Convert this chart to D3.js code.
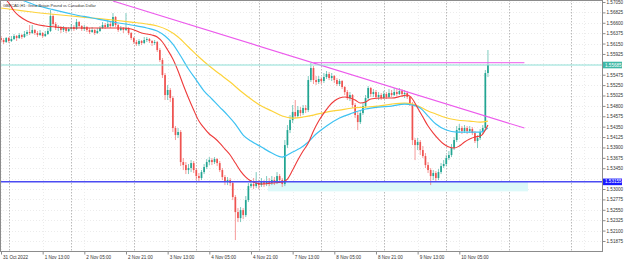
<!DOCTYPE html>
<html><head><meta charset="utf-8">
<script src="https://cdn.jsdelivr.net/npm/d3@7"></script>
<style>html,body{margin:0;padding:0;background:#fff;}svg{display:block;font-family:"Liberation Sans",Arial,sans-serif;}</style>
</head><body><svg id="c" width="625" height="260"></svg>
<script>
const title = "GBPCAD,H1:  Great Britain Pound vs Canadian Dollar";
const firstOpen = 1.56270;
const closes = [
1.56227,1.56183,1.56270,1.56205,1.56248,1.56313,1.56270,1.56335,1.56292,1.56357,
1.56400,1.56378,1.56443,1.56378,1.56335,1.56378,1.56313,1.56357,1.56422,1.56746,
1.56573,1.56487,1.56508,1.56443,1.56487,1.56422,1.56465,1.56508,1.56465,1.56616,
1.56530,1.56465,1.56508,1.56443,1.56400,1.56443,1.56378,1.56422,1.56487,1.56551,
1.56508,1.56573,1.56530,1.56725,1.56551,1.56443,1.56487,1.56443,1.56487,1.56378,
1.56270,1.56183,1.56140,1.56205,1.56162,1.56227,1.56248,1.56205,1.56162,1.56183,
1.56010,1.55793,1.55468,1.55035,1.55144,1.54970,1.54321,1.54169,1.54234,1.53584,
1.53519,1.53411,1.53454,1.53562,1.53411,1.53281,1.53238,1.53367,1.53476,1.53584,
1.53627,1.53584,1.53649,1.53562,1.53411,1.53259,1.53151,1.53194,1.53129,1.52826,
1.52501,1.52371,1.52544,1.52436,1.52761,1.53064,1.53108,1.53064,1.53129,1.53086,
1.53151,1.53108,1.53173,1.53129,1.53194,1.53151,1.53281,1.53194,1.53108,1.53952,
1.54277,1.54494,1.54667,1.54580,1.54710,1.54645,1.54754,1.54710,1.55360,1.55620,
1.55360,1.55317,1.55382,1.55339,1.55425,1.55490,1.55404,1.55447,1.55360,1.55274,
1.55339,1.55209,1.55100,1.54970,1.55035,1.54819,1.54602,1.54450,1.54645,1.54797,
1.54970,1.55187,1.55057,1.55100,1.54992,1.55035,1.54970,1.55057,1.54992,1.55079,
1.55035,1.55100,1.55057,1.55122,1.55057,1.55079,1.54992,1.54840,1.54061,1.53952,
1.54017,1.53844,1.53714,1.53519,1.53411,1.53281,1.53346,1.53238,1.53367,1.53497,
1.53541,1.53671,1.53736,1.53887,1.54061,1.54277,1.54321,1.54256,1.54321,1.54256,
1.54299,1.54212,1.54039,1.54104,1.54234,1.54321,1.55512,1.55685];
const highs = [
1.56313,1.56270,1.56292,1.56292,1.56313,1.56357,1.56335,1.56378,1.56357,1.56422,
1.56443,1.56551,1.56551,1.56465,1.56422,1.56443,1.56400,1.56422,1.56487,1.56876,
1.56790,1.56616,1.56551,1.56530,1.56530,1.56508,1.56508,1.56573,1.56551,1.56681,
1.56638,1.56551,1.56551,1.56530,1.56487,1.56508,1.56465,1.56487,1.56530,1.56616,
1.56595,1.56660,1.56616,1.56811,1.56746,1.56573,1.56530,1.56508,1.56811,1.56508,
1.56400,1.56292,1.56227,1.56248,1.56227,1.56292,1.56292,1.56270,1.56227,1.56227,
1.56205,1.56053,1.55837,1.55512,1.55252,1.55187,1.55014,1.54364,1.54321,1.54277,
1.53671,1.53584,1.53541,1.53627,1.53606,1.53454,1.53346,1.53411,1.53541,1.53649,
1.53692,1.53671,1.53692,1.53671,1.53606,1.53454,1.53302,1.53259,1.53238,1.53173,
1.52869,1.52588,1.52609,1.52588,1.52848,1.53129,1.53194,1.53238,1.53367,1.53194,
1.53238,1.53194,1.53281,1.53238,1.53281,1.53259,1.53367,1.53324,1.53238,1.54061,
1.54385,1.54602,1.54819,1.54927,1.54797,1.54775,1.54819,1.54819,1.55447,1.55728,
1.55663,1.55447,1.55447,1.55425,1.55512,1.55555,1.55533,1.55512,1.55468,1.55404,
1.55382,1.55360,1.55230,1.55144,1.55100,1.55057,1.54862,1.54667,1.54710,1.54862,
1.55035,1.55230,1.55209,1.55165,1.55144,1.55100,1.55079,1.55122,1.55100,1.55165,
1.55144,1.55187,1.55165,1.55187,1.55165,1.55144,1.55122,1.55014,1.54884,1.54104,
1.54104,1.54061,1.53931,1.53779,1.53584,1.53454,1.53411,1.53389,1.53432,1.53562,
1.53627,1.53736,1.53822,1.53974,1.54126,1.54364,1.54407,1.54364,1.54385,1.54364,
1.54364,1.54342,1.54256,1.54169,1.54299,1.54385,1.55577,1.56010];
const lows = [
1.56183,1.56140,1.56162,1.56162,1.56183,1.56227,1.56205,1.56248,1.56248,1.56270,
1.56313,1.56335,1.56357,1.56335,1.56292,1.56313,1.56270,1.56292,1.56335,1.56400,
1.56530,1.56443,1.56422,1.56378,1.56400,1.56378,1.56400,1.56443,1.56422,1.56443,
1.56487,1.56422,1.56422,1.56400,1.56357,1.56378,1.56335,1.56357,1.56400,1.56465,
1.56465,1.56487,1.56487,1.56508,1.56508,1.56400,1.56422,1.56378,1.56422,1.56335,
1.56227,1.56140,1.56097,1.56097,1.56118,1.56140,1.56183,1.56162,1.56097,1.56118,
1.55967,1.55750,1.55404,1.54927,1.54927,1.54884,1.54234,1.54061,1.54104,1.53497,
1.53411,1.53324,1.53324,1.53367,1.53346,1.53194,1.53173,1.53194,1.53324,1.53432,
1.53519,1.53519,1.53541,1.53497,1.53367,1.53194,1.53086,1.53086,1.53064,1.52761,
1.51895,1.52284,1.52284,1.52349,1.52393,1.52718,1.53021,1.52999,1.53021,1.52999,
1.53043,1.53043,1.53064,1.53064,1.53086,1.53086,1.53108,1.53129,1.53043,1.53064,
1.53887,1.54212,1.54429,1.54537,1.54537,1.54580,1.54602,1.54645,1.54667,1.55317,
1.55274,1.55252,1.55274,1.55274,1.55295,1.55382,1.55360,1.55339,1.55295,1.55230,
1.55230,1.55165,1.55035,1.54927,1.54905,1.54754,1.54537,1.54277,1.54407,1.54602,
1.54754,1.54927,1.54992,1.54992,1.54949,1.54927,1.54927,1.54949,1.54949,1.54970,
1.54992,1.55014,1.55014,1.55035,1.54992,1.54970,1.54949,1.54797,1.53952,1.53627,
1.53844,1.53736,1.53671,1.53454,1.53346,1.53086,1.53194,1.53173,1.53194,1.53324,
1.53454,1.53497,1.53627,1.53692,1.53844,1.54017,1.54212,1.54191,1.54212,1.54191,
1.54212,1.54169,1.53996,1.53887,1.54061,1.54191,1.54277,1.55425];

// moving averages: [bar index, price]
const redMA = [[0,1.57223],[3,1.57028],[5,1.56855],[7,1.56746],[10,1.56638],[13,1.56573],[17,1.56530],[21,1.56508],[26,1.56487],[32,1.56487],[38,1.56487],[43,1.56487],[47,1.56487],[50,1.56465],[54,1.56378],[58,1.56335],[60,1.56292],[62,1.56183],[64,1.56010],[66,1.55815],[68,1.55555],[70,1.55252],[72,1.54970],[74,1.54710],[76,1.54472],[78,1.54321],[80,1.54191],[82,1.54104],[84,1.53996],[86,1.53866],[88,1.53736],[90,1.53562],[92,1.53389],[94,1.53259],[96,1.53173],[98,1.53129],[100,1.53108],[104,1.53129],[108,1.53151],[110,1.53216],[112,1.53411],[114,1.53627],[116,1.53822],[118,1.53996],[120,1.54256],[122,1.54472],[124,1.54645],[126,1.54797],[128,1.54905],[130,1.54970],[132,1.54992],[134,1.54970],[136,1.54927],[138,1.54862],[140,1.54884],[142,1.54949],[146,1.54970],[150,1.54970],[154,1.55014],[156,1.55035],[158,1.54949],[160,1.54754],[162,1.54559],[164,1.54364],[166,1.54212],[168,1.54082],[170,1.53974],[172,1.53909],[174,1.53887],[176,1.53931],[178,1.54017],[180,1.54082],[182,1.54126],[184,1.54148],[185,1.54191],[186,1.54277],[187,1.54385]];
const blueMA = [[0,1.57266],[5,1.57158],[9,1.57071],[13,1.56985],[19,1.56898],[27,1.56790],[35,1.56703],[43,1.56616],[50,1.56551],[56,1.56487],[60,1.56422],[63,1.56313],[66,1.56140],[69,1.55880],[72,1.55598],[75,1.55360],[78,1.55122],[81,1.54949],[84,1.54775],[87,1.54602],[90,1.54407],[93,1.54169],[96,1.54039],[100,1.53909],[104,1.53779],[108,1.53692],[110,1.53736],[112,1.53801],[115,1.53887],[118,1.54017],[121,1.54191],[125,1.54364],[130,1.54537],[135,1.54645],[140,1.54732],[145,1.54775],[150,1.54797],[155,1.54840],[158,1.54819],[161,1.54754],[164,1.54580],[167,1.54407],[171,1.54277],[175,1.54234],[180,1.54234],[184,1.54234],[187,1.54321]];
const yellowMA = [[0,1.56920],[6,1.56876],[12,1.56833],[19,1.56790],[27,1.56746],[35,1.56703],[43,1.56660],[50,1.56616],[56,1.56573],[60,1.56530],[64,1.56443],[68,1.56292],[72,1.56075],[76,1.55858],[80,1.55663],[84,1.55490],[88,1.55317],[92,1.55122],[96,1.54949],[100,1.54797],[104,1.54689],[108,1.54580],[112,1.54537],[116,1.54559],[120,1.54602],[125,1.54667],[130,1.54710],[135,1.54754],[140,1.54775],[145,1.54797],[150,1.54840],[155,1.54862],[158,1.54840],[161,1.54775],[164,1.54689],[167,1.54624],[170,1.54559],[175,1.54494],[180,1.54472],[184,1.54450],[187,1.54472]];

// drawn objects
const trendLine = [[43,1.57071],[201,1.54320]];
const resistanceLine = [[120,1.55735],[201,1.55735]];
const cyanLevel = 1.55685;
const blueLevel = 1.53155;
const zoneRect = {i0:102.5, i1:202.4, top:1.53155, bottom:1.52950};

const priceTicks = [1.51875,1.52100,1.52325,1.52550,1.52775,1.53000,1.53225,1.53450,1.53675,1.53900,1.54125,1.54350,1.54575,1.54800,1.55025,1.55250,1.55475,1.55700,1.55925,1.56150,1.56375,1.56600,1.56825,1.57050];
const timeTickIdx = [0,16,32,48,64,80,96,112,128,144,160,176];
const timeTickText = ["31 Oct 2022","1 Nov 13:00","2 Nov 05:00","2 Nov 21:00","3 Nov 13:00","4 Nov 05:00","4 Nov 21:00","7 Nov 13:00","8 Nov 05:00","8 Nov 21:00","9 Nov 13:00","10 Nov 05:00"];
const gridIdx = [0,16,32,48,64,80,96,112,128,144,160,176,192,208,224];
const daySeparators = [3,27,51,75,99,123,147,171,195,219];

const W = 602, H = 251;
const svg = d3.select("#c");
svg.append("rect").attr("width",625).attr("height",260).attr("fill","#fff");
const x = d3.scaleLinear().domain([0,187]).range([1, 1+187*2.604]);
const y = d3.scaleLinear().domain([1.51658,1.57093]).range([H,0]);

svg.append("clipPath").attr("id","clip").append("rect").attr("x",0).attr("y",0).attr("width",W).attr("height",H);
const g = svg.append("g").attr("clip-path","url(#clip)");

// faint grid
g.selectAll(".hg").data(priceTicks).join("line")
  .attr("x1",0).attr("x2",W).attr("y1",d=>Math.round(y(d))+0.5).attr("y2",d=>Math.round(y(d))+0.5)
  .attr("stroke","#ececec").attr("stroke-width",1).attr("stroke-dasharray","1,2");
g.selectAll(".vg").data(gridIdx).join("line")
  .attr("x1",d=>Math.round(x(d))+0.5).attr("x2",d=>Math.round(x(d))+0.5).attr("y1",0).attr("y2",H)
  .attr("stroke","#ececec").attr("stroke-width",1).attr("stroke-dasharray","1,2");
// day separators
g.selectAll(".ds").data(daySeparators).join("line")
  .attr("x1",d=>Math.round(x(d))+0.5).attr("x2",d=>Math.round(x(d))+0.5).attr("y1",0).attr("y2",H)
  .attr("stroke","#a8a8a8").attr("stroke-width",0.8).attr("stroke-dasharray","1.5,1.5");

// zone rectangle
g.append("rect").attr("x",x(zoneRect.i0)).attr("width",x(zoneRect.i1)-x(zoneRect.i0))
  .attr("y",y(zoneRect.top)).attr("height",y(zoneRect.bottom)-y(zoneRect.top)).attr("fill","#dcf9f9");

// candles
const bars = closes.map((c,i)=>{
  const o = i===0 ? firstOpen : closes[i-1];
  return {i, o, c, h: Math.max(highs[i],o,c), l: Math.min(lows[i],o,c)};
});
const UP="#22a592", DN="#ef5350";
g.selectAll(".wick").data(bars).join("line")
  .attr("x1",d=>x(d.i)).attr("x2",d=>x(d.i)).attr("y1",d=>y(d.h)).attr("y2",d=>y(d.l))
  .attr("stroke",d=>d.c>=d.o?UP:DN).attr("stroke-width",0.9).attr("stroke-opacity",0.65);
g.selectAll(".body").data(bars).join("rect")
  .attr("x",d=>x(d.i)-0.85).attr("width",1.7)
  .attr("y",d=>y(Math.max(d.o,d.c))).attr("height",d=>Math.max(0.6,Math.abs(y(d.o)-y(d.c))))
  .attr("fill",d=>d.c>=d.o?UP:DN);

// moving averages
const line = d3.line().x(d=>x(d[0])).y(d=>y(d[1])).curve(d3.curveMonotoneX);
g.append("path").attr("d",line(yellowMA)).attr("fill","none").attr("stroke","#fdd33a").attr("stroke-width",1.2);
g.append("path").attr("d",line(blueMA)).attr("fill","none").attr("stroke","#3ec2f2").attr("stroke-width",1.2);
g.append("path").attr("d",line(redMA)).attr("fill","none").attr("stroke","#ee3a3a").attr("stroke-width",1.1);

// objects
const straight = d3.line().x(d=>x(d[0])).y(d=>y(d[1]));
g.append("path").attr("d",straight(trendLine)).attr("stroke","#ec5aec").attr("stroke-width",1.1).attr("fill","none");
g.append("path").attr("d",straight(resistanceLine)).attr("stroke","#ec5aec").attr("stroke-width",1).attr("fill","none");
g.append("line").attr("x1",0).attr("x2",W).attr("y1",y(cyanLevel)).attr("y2",y(cyanLevel)).attr("stroke","#8edfd6").attr("stroke-width",1);
g.append("line").attr("x1",0).attr("x2",W).attr("y1",y(blueLevel)).attr("y2",y(blueLevel)).attr("stroke","#4b4bf2").attr("stroke-width",1.5);

// title
svg.append("text").attr("x",3).attr("y",6.5).attr("font-size",3.9).attr("fill","#333").text(title);

// border
svg.append("rect").attr("x",0.5).attr("y",0.5).attr("width",W).attr("height",H).attr("fill","none").attr("stroke","#8c8c8c").attr("stroke-width",1);

// y axis
const yAxis = d3.axisRight(y).tickValues(priceTicks.filter(p=>Math.abs(y(p)-y(cyanLevel))>5 && Math.abs(y(p)-y(blueLevel))>5))
  .tickFormat(d3.format(".5f")).tickSize(3).tickPadding(1);
const ya = svg.append("g").attr("transform",`translate(${W+0.5},0)`).call(yAxis);
ya.select(".domain").remove();
ya.selectAll("line").attr("stroke","#8c8c8c");
ya.selectAll("text").attr("font-size",4.6).attr("fill","#333").attr("font-family","Liberation Sans, Arial, sans-serif");

// x axis
const xAxis = d3.axisBottom(x).tickValues(timeTickIdx).tickFormat((d,k)=>timeTickText[k]).tickSize(3).tickPadding(1);
const xa = svg.append("g").attr("transform",`translate(0,${H+0.5})`).call(xAxis);
xa.select(".domain").remove();
xa.selectAll("line").attr("stroke","#8c8c8c");
xa.selectAll("text").attr("font-size",4.6).attr("fill","#333").attr("text-anchor","start").attr("dx",1.5)
  .attr("font-family","Liberation Sans, Arial, sans-serif");

// highlighted price labels
function tag(p, fill){
  const yy = y(p);
  svg.append("rect").attr("x",W+1).attr("y",yy-3.3).attr("width",19).attr("height",6.6).attr("fill",fill);
  svg.append("text").attr("x",W+3).attr("y",yy).attr("dy","0.35em").attr("font-size",4.6).attr("fill","#fff").text(d3.format(".5f")(p));
}
tag(cyanLevel,"#3fb8a6");
tag(blueLevel,"#1a1aff");
</script></body></html>
